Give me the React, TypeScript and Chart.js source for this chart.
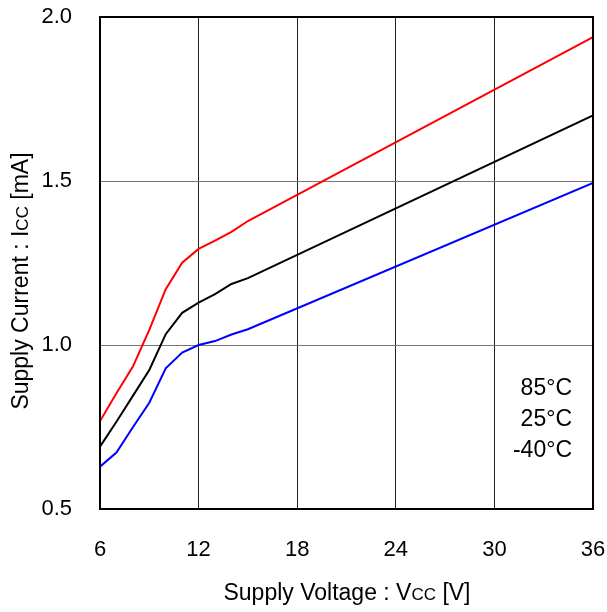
import React, { useEffect, useRef } from "react";
import { Chart, registerables } from "chart.js";
Chart.register(...registerables);

const voltage = [6, 7, 8, 9, 10, 11, 12, 13, 14, 15, 36];
const current85 = [0.768, 0.853, 0.934, 1.046, 1.17, 1.251, 1.293, 1.318, 1.345, 1.378, 1.939];
const current25 = [0.69, 0.766, 0.845, 0.924, 1.033, 1.098, 1.129, 1.155, 1.186, 1.204, 1.70];
const currentM40 = [0.629, 0.672, 0.749, 0.824, 0.929, 0.977, 1.0, 1.012, 1.032, 1.048, 1.494];
const legendLabels = ["85°C", "25°C", "-40°C"];
const xTicks = [6, 12, 18, 24, 30, 36];
const yTicks = [0.5, 1.0, 1.5, 2.0];

const FONT = "'Liberation Sans', Arial, sans-serif";

const textPlugin = {
  id: "texts",
  afterDraw(chart: any) {
    const ctx = chart.ctx;
    const a = chart.chartArea;
    ctx.save();
    ctx.strokeStyle = "#000";
    ctx.lineWidth = 2;
    ctx.strokeRect(a.left, a.top, a.right - a.left, a.bottom - a.top);
    ctx.fillStyle = "#000";
    ctx.font = `23px ${FONT}`;
    ctx.textAlign = "right";
    ctx.textBaseline = "alphabetic";
    const ys = [395, 426, 457];
    legendLabels.forEach((t, i) => ctx.fillText(t, 572, ys[i]));
    const drawMixed = (parts: [string, number][], cx: number, cy: number) => {
      let total = 0;
      const widths = parts.map(([s, sz]) => {
        ctx.font = `${sz}px ${FONT}`;
        const w = ctx.measureText(s).width;
        total += w;
        return w;
      });
      let x = cx - total / 2;
      ctx.textAlign = "left";
      parts.forEach(([s, sz], i) => {
        ctx.font = `${sz}px ${FONT}`;
        ctx.fillText(s, x, cy);
        x += widths[i];
      });
    };
    drawMixed([["Supply Voltage : V", 23], ["CC", 17], [" [V]", 23]], 347, 600);
    ctx.save();
    ctx.translate(28, 281);
    ctx.rotate(-Math.PI / 2);
    drawMixed([["Supply Current : I", 23], ["CC", 17], [" [mA]", 23]], 0, 0);
    ctx.restore();
    ctx.restore();
  },
};

export default function App() {
  const ref = useRef<HTMLCanvasElement>(null);
  useEffect(() => {
    document.body.style.margin = "0";
    const mk = (data: number[], color: string) => ({
      data: voltage.map((v, i) => ({ x: v, y: data[i] })),
      borderColor: color,
      backgroundColor: color,
      borderWidth: 2,
      pointRadius: 0,
      tension: 0,
      fill: false,
    });
    const chart = new Chart(ref.current!, {
      type: "line",
      data: {
        datasets: [mk(current85, "#ff0000"), mk(current25, "#000000"), mk(currentM40, "#0000ff")],
      },
      options: {
        animation: false,
        responsive: false,
        devicePixelRatio: 1,
        layout: { padding: { top: 17, right: 14, left: 0, bottom: 0 } },
        plugins: { legend: { display: false }, tooltip: { enabled: false } },
        scales: {
          x: {
            type: "linear",
            min: 6,
            max: 36,
            afterBuildTicks: (s: any) => {
              s.ticks = xTicks.map((v) => ({ value: v }));
            },
            afterFit: (s: any) => {
              s.height = 103;
              s.paddingLeft = 0;
              s.paddingRight = 0;
            },
            grid: { color: "#222", lineWidth: 1, drawTicks: false },
            border: { display: false },
            ticks: { color: "#000", font: { family: FONT, size: 22 }, padding: 28, maxRotation: 0 },
          },
          y: {
            type: "linear",
            min: 0.5,
            max: 2.0,
            afterBuildTicks: (s: any) => {
              s.ticks = yTicks.map((v) => ({ value: v }));
            },
            afterFit: (s: any) => {
              s.width = 100;
              s.paddingTop = 0;
              s.paddingBottom = 0;
            },
            grid: { color: "#777", lineWidth: 1, drawTicks: false },
            border: { display: false },
            ticks: {
              color: "#000",
              font: { family: FONT, size: 22 },
              padding: 28,
              callback: (v: any) => Number(v).toFixed(1),
            },
          },
        },
      },
      plugins: [textPlugin],
    });
    return () => chart.destroy();
  }, []);
  return <canvas ref={ref} width={607} height={612} style={{ display: "block", width: 607, height: 612 }} />;
}
